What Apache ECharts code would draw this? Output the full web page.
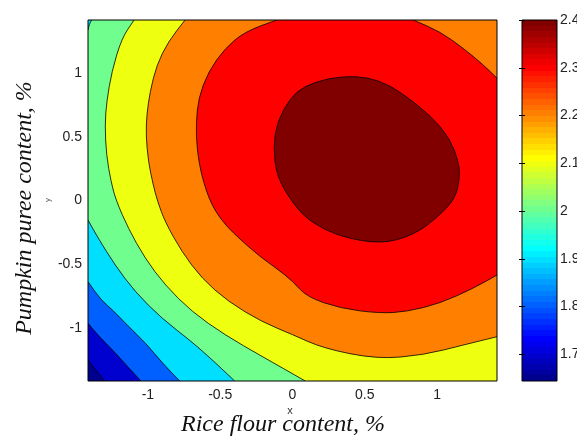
<!DOCTYPE html>
<html>
<head>
    <meta charset="utf-8">
    <title>contour</title>
    <style>
        html, body { margin: 0; padding: 0; background: #fff; }
        #chart { width: 577px; height: 436px; }
    </style>
</head>
<body>
<div id="chart"></div>
<script src="https://cdn.jsdelivr.net/npm/echarts@6.0.0/dist/echarts.min.js"></script>
<script>
    // axis ranges and ticks
    var xRange = [-1.414, 1.414];
    var yRange = [-1.414, 1.414];
    var xTicks = [-1, -0.5, 0, 0.5, 1];
    var yTicks = [-1, -0.5, 0, 0.5, 1];

    // contour levels and colorbar
    var levels = [1.7, 1.8, 1.9, 2.0, 2.1, 2.2, 2.3, 2.4];
    var cbarRange = [1.644, 2.4];
    var cbarTicks = [1.7, 1.8, 1.9, 2, 2.1, 2.2, 2.3, 2.4];

    // contour lines, [x, y] in axis units
    var c170 = [[-1.414, -1.25], [-1.37, -1.315], [-1.30, -1.414]];
    var c180 = [[-1.414, -0.962], [-1.336, -1.067], [-1.221, -1.198], [-1.129, -1.315], [-1.048, -1.414]];
    var c190 = [[-1.414, -0.636], [-1.324, -0.780], [-1.243, -0.858], [-1.14, -0.98], [-1.013, -1.119],
        [-0.898, -1.276], [-0.78, -1.414]];
    var c200 = [[-1.414, -0.153], [-1.343, -0.296], [-1.228, -0.505], [-1.089, -0.715], [-0.905, -0.923],
        [-0.697, -1.106], [-0.548, -1.255], [-0.40, -1.414]];
    var c200corner = [[-1.389, 1.414], [-1.405, 1.38], [-1.414, 1.336]];
    var c210 = [[-1.095, 1.414], [-1.181, 1.271], [-1.250, 1.009], [-1.285, 0.774], [-1.297, 0.592],
        [-1.287, 0.357], [-1.255, 0.147], [-1.22, 0.0], [-1.136, -0.218], [-1.020, -0.453], [-0.882, -0.662],
        [-0.697, -0.871], [-0.467, -1.054], [-0.213, -1.22], [-0.06, -1.318], [0.088, -1.414]];
    var c220 = [[-0.743, 1.414], [-0.859, 1.245], [-0.939, 1.062], [-0.985, 0.853], [-1.008, 0.670],
        [-1.013, 0.513], [-0.997, 0.304], [-0.963, 0.121], [-0.935, 0.0], [-0.882, -0.166], [-0.766, -0.401],
        [-0.628, -0.610], [-0.444, -0.793], [-0.213, -0.950], [0.0, -1.05], [0.213, -1.158], [0.582, -1.242],
        [0.905, -1.211], [1.181, -1.132], [1.414, -1.067]];
    var c230 = [[-0.109, 1.414], [-0.328, 1.323], [-0.467, 1.193], [-0.582, 1.009], [-0.651, 0.80],
        [-0.666, 0.60], [-0.663, 0.474], [-0.654, 0.357], [-0.633, 0.223], [-0.598, 0.082], [-0.557, -0.035],
        [-0.502, -0.137], [-0.418, -0.247], [-0.239, -0.427], [-0.114, -0.529], [0.0, -0.63], [0.098, -0.754],
        [0.328, -0.845], [0.605, -0.884], [0.790, -0.871], [1.020, -0.806], [1.250, -0.688], [1.414, -0.584]];
    var c230corner = [[1.414, 0.958], [1.320, 1.062], [1.181, 1.193], [1.020, 1.323], [0.835, 1.414]];
    var c240 = [[0.444, 0.976], [0.60, 0.94], [0.743, 0.853], [0.951, 0.670], [1.089, 0.487], [1.147, 0.304],
        [1.158, 0.20], [1.13, 0.02], [0.997, -0.140], [0.835, -0.270], [0.617, -0.341], [0.328, -0.284],
        [0.121, -0.166], [0.006, -0.03], [-0.109, 0.187], [-0.133, 0.42], [-0.105, 0.62], [-0.017, 0.80],
        [0.075, 0.892], [0.25, 0.96]];

    var levelLines = [[c170], [c180], [c190], [c200, c200corner], [c210], [c220], [c230, c230corner], [c240]];

    // band fill colours (jet, as matlab fills each band)
    var bandColors = ['#00008f', '#0000cf', '#0060ff', '#00dfff', '#70ff8f', '#efff10', '#ff8000', '#ff0000', '#800000'];

    var W = xRange[1] - xRange[0], H = yRange[1] - yRange[0];
    var corners = [
        {t: W, p: [xRange[1], yRange[0]]},
        {t: W + H, p: [xRange[1], yRange[1]]},
        {t: 2 * W + H, p: [xRange[0], yRange[1]]},
        {t: 2 * W + 2 * H, p: [xRange[0], yRange[0]]}
    ];

    function near(a, b) { return Math.abs(a - b) < 1e-3; }

    function onEdge(p) {
        return near(p[0], xRange[0]) || near(p[0], xRange[1]) || near(p[1], yRange[0]) || near(p[1], yRange[1]);
    }

    // position along the frame, counter-clockwise from bottom-left
    function edgePos(p) {
        if (near(p[1], yRange[0])) return p[0] - xRange[0];
        if (near(p[0], xRange[1])) return W + p[1] - yRange[0];
        if (near(p[1], yRange[1])) return W + H + xRange[1] - p[0];
        return 2 * W + H + yRange[1] - p[1];
    }

    function walk(a, b) {
        var ta = edgePos(a), tb = edgePos(b), out = [];
        if (tb < ta) tb += 2 * W + 2 * H;
        [0, 1].forEach(function (lap) {
            corners.forEach(function (c) {
                var t = c.t + lap * (2 * W + 2 * H);
                if (t > ta && t < tb) out.push(c.p);
            });
        });
        return out;
    }

    function pt(q) { return q[0].toFixed(2) + ' ' + q[1].toFixed(2); }
    function mid(a, b) { return [(a[0] + b[0]) / 2, (a[1] + b[1]) / 2]; }

    // smooth path through pixel points (quadratic pieces between midpoints)
    function openPath(q, first) {
        var d = (first ? 'M' : 'L') + pt(q[0]) + 'L' + pt(mid(q[0], q[1]));
        for (var i = 1; i < q.length - 1; i++) d += 'Q' + pt(q[i]) + ' ' + pt(mid(q[i], q[i + 1]));
        return d + 'L' + pt(q[q.length - 1]);
    }

    function closedPath(q) {
        var n = q.length, d = 'M' + pt(mid(q[n - 1], q[0]));
        for (var i = 0; i < n; i++) d += 'Q' + pt(q[i]) + ' ' + pt(mid(q[i], q[(i + 1) % n]));
        return d + 'Z';
    }

    function regionPath(segs, coord) {
        if (!segs) {
            return 'M' + corners.map(function (c) { return pt(coord(c.p)); }).join('L') + 'Z';
        }
        if (!onEdge(segs[0][0])) return closedPath(segs[0].map(coord));
        var d = '';
        segs.forEach(function (s, k) {
            d += openPath(s.map(coord), k === 0);
            var next = segs[(k + 1) % segs.length];
            walk(s[s.length - 1], next[0]).forEach(function (c) { d += 'L' + pt(coord(c)); });
        });
        return d + 'Z';
    }

    // matlab jet colormap, used only for the colorbar gradient
    function jet(m) {
        var n = Math.ceil(m / 4), u = [], i, rows = [];
        for (i = 1; i <= n; i++) u.push(i / n);
        for (i = 1; i < n; i++) u.push(1);
        for (i = n; i >= 1; i--) u.push(i / n);
        var off = Math.ceil(n / 2) - (m % 4 === 1 ? 1 : 0);
        for (i = 0; i < m; i++) rows.push([0, 0, 0]);
        u.forEach(function (v, j) {
            var g = off + j + 1;
            if (g + n <= m) rows[g + n - 1][0] = v;
            if (g >= 1 && g <= m) rows[g - 1][1] = v;
            if (g - n >= 1) rows[g - n - 1][2] = v;
        });
        return rows.map(function (r) {
            return 'rgb(' + r.map(function (c) { return Math.round(c * 255); }).join(',') + ')';
        });
    }

    var jetColors = jet(64);
    var cbarStops = [];
    for (var k = 0; k < 64; k++) {
        var col = jetColors[63 - k];
        cbarStops.push({offset: k / 64, color: col}, {offset: (k + 1) / 64, color: col});
    }

    var chart = echarts.init(document.getElementById('chart'));

    var labelFont = {fontFamily: 'Liberation Sans', fontSize: 14, color: '#222'};

    var option = {
        backgroundColor: '#fff',
        animation: false,
        grid: [
            {left: 88, top: 20, width: 409, height: 361, show: true, borderColor: '#000', borderWidth: 1,
                backgroundColor: 'transparent', z: 5, outerBoundsMode: 'none'},
            {left: 522, top: 20, width: 35, height: 361, show: true, borderColor: '#000', borderWidth: 1,
                backgroundColor: 'transparent', z: 5, outerBoundsMode: 'none'}
        ],
        xAxis: [
            {
                type: 'value', gridIndex: 0, min: xRange[0], max: xRange[1],
                axisLine: {show: false}, axisTick: {show: false}, splitLine: {show: false},
                axisLabel: Object.assign({customValues: xTicks, margin: 7}, labelFont)
            },
            {
                type: 'value', gridIndex: 1, min: 0, max: 1, show: false
            }
        ],
        yAxis: [
            {
                type: 'value', gridIndex: 0, min: yRange[0], max: yRange[1],
                axisLine: {show: false}, axisTick: {show: false}, splitLine: {show: false},
                axisLabel: Object.assign({customValues: yTicks, margin: 6}, labelFont)
            },
            {
                type: 'value', gridIndex: 1, position: 'right', min: cbarRange[0], max: cbarRange[1], z: 6,
                axisLine: {show: false}, splitLine: {show: false},
                axisTick: {show: true, inside: true, length: 3, customValues: cbarTicks, lineStyle: {color: '#000'}},
                axisLabel: Object.assign({customValues: cbarTicks, margin: 3}, labelFont)
            },
            {
                type: 'value', gridIndex: 1, position: 'left', min: cbarRange[0], max: cbarRange[1], z: 6,
                axisLine: {show: false}, splitLine: {show: false},
                axisTick: {show: true, inside: true, length: 3, customValues: cbarTicks, lineStyle: {color: '#000'}},
                axisLabel: {show: false}
            }
        ],
        series: [
            {
                type: 'custom',
                xAxisIndex: 0,
                yAxisIndex: 0,
                clip: true,
                data: bandColors.map(function (c, i) { return [i]; }),
                renderItem: function (params, api) {
                    var i = api.value(0);
                    var coord = function (p) { return api.coord(p); };
                    var segs = i === 0 ? null : levelLines[i - 1];
                    var children = [{
                        type: 'path',
                        shape: {pathData: regionPath(segs, coord)},
                        style: {fill: bandColors[i], stroke: null}
                    }];
                    if (segs) {
                        var closed = !onEdge(segs[0][0]);
                        segs.forEach(function (s) {
                            var q = s.map(coord);
                            children.push({
                                type: 'path',
                                shape: {pathData: closed ? closedPath(q) : openPath(q, true)},
                                style: {fill: null, stroke: '#000', lineWidth: 0.8}
                            });
                        });
                    }
                    return {type: 'group', children: children};
                }
            },
            {
                type: 'custom',
                xAxisIndex: 1,
                yAxisIndex: 1,
                data: [[cbarRange[0], cbarRange[1]]],
                renderItem: function (params, api) {
                    var top = api.coord([0, api.value(1)]);
                    var bottom = api.coord([1, api.value(0)]);
                    return {
                        type: 'rect',
                        shape: {x: top[0], y: top[1], width: bottom[0] - top[0], height: bottom[1] - top[1]},
                        style: {
                            fill: {type: 'linear', x: 0, y: 0, x2: 0, y2: 1, colorStops: cbarStops}
                        }
                    };
                }
            }
        ],
        graphic: [
            {
                type: 'text', x: 283, y: 425,
                style: {text: 'Rice flour content, %', fontFamily: 'Liberation Serif', fontStyle: 'italic',
                    fontSize: 24, fill: '#111', align: 'center', verticalAlign: 'middle'}
            },
            {
                type: 'text', x: 290, y: 411,
                style: {text: 'x', fontFamily: 'Liberation Sans', fontSize: 11, fill: '#333',
                    align: 'center', verticalAlign: 'middle'}
            },
            {
                type: 'text', x: 25, y: 208, rotation: Math.PI / 2,
                style: {text: 'Pumpkin puree content, %', fontFamily: 'Liberation Serif', fontStyle: 'italic',
                    fontSize: 24, fill: '#111', align: 'center', verticalAlign: 'middle'}
            },
            {
                type: 'text', x: 48, y: 200, rotation: Math.PI / 2,
                style: {text: 'y', fontFamily: 'Liberation Sans', fontSize: 8, fill: '#555',
                    align: 'center', verticalAlign: 'middle'}
            }
        ]
    };

    chart.setOption(option);
</script>
</body>
</html>
